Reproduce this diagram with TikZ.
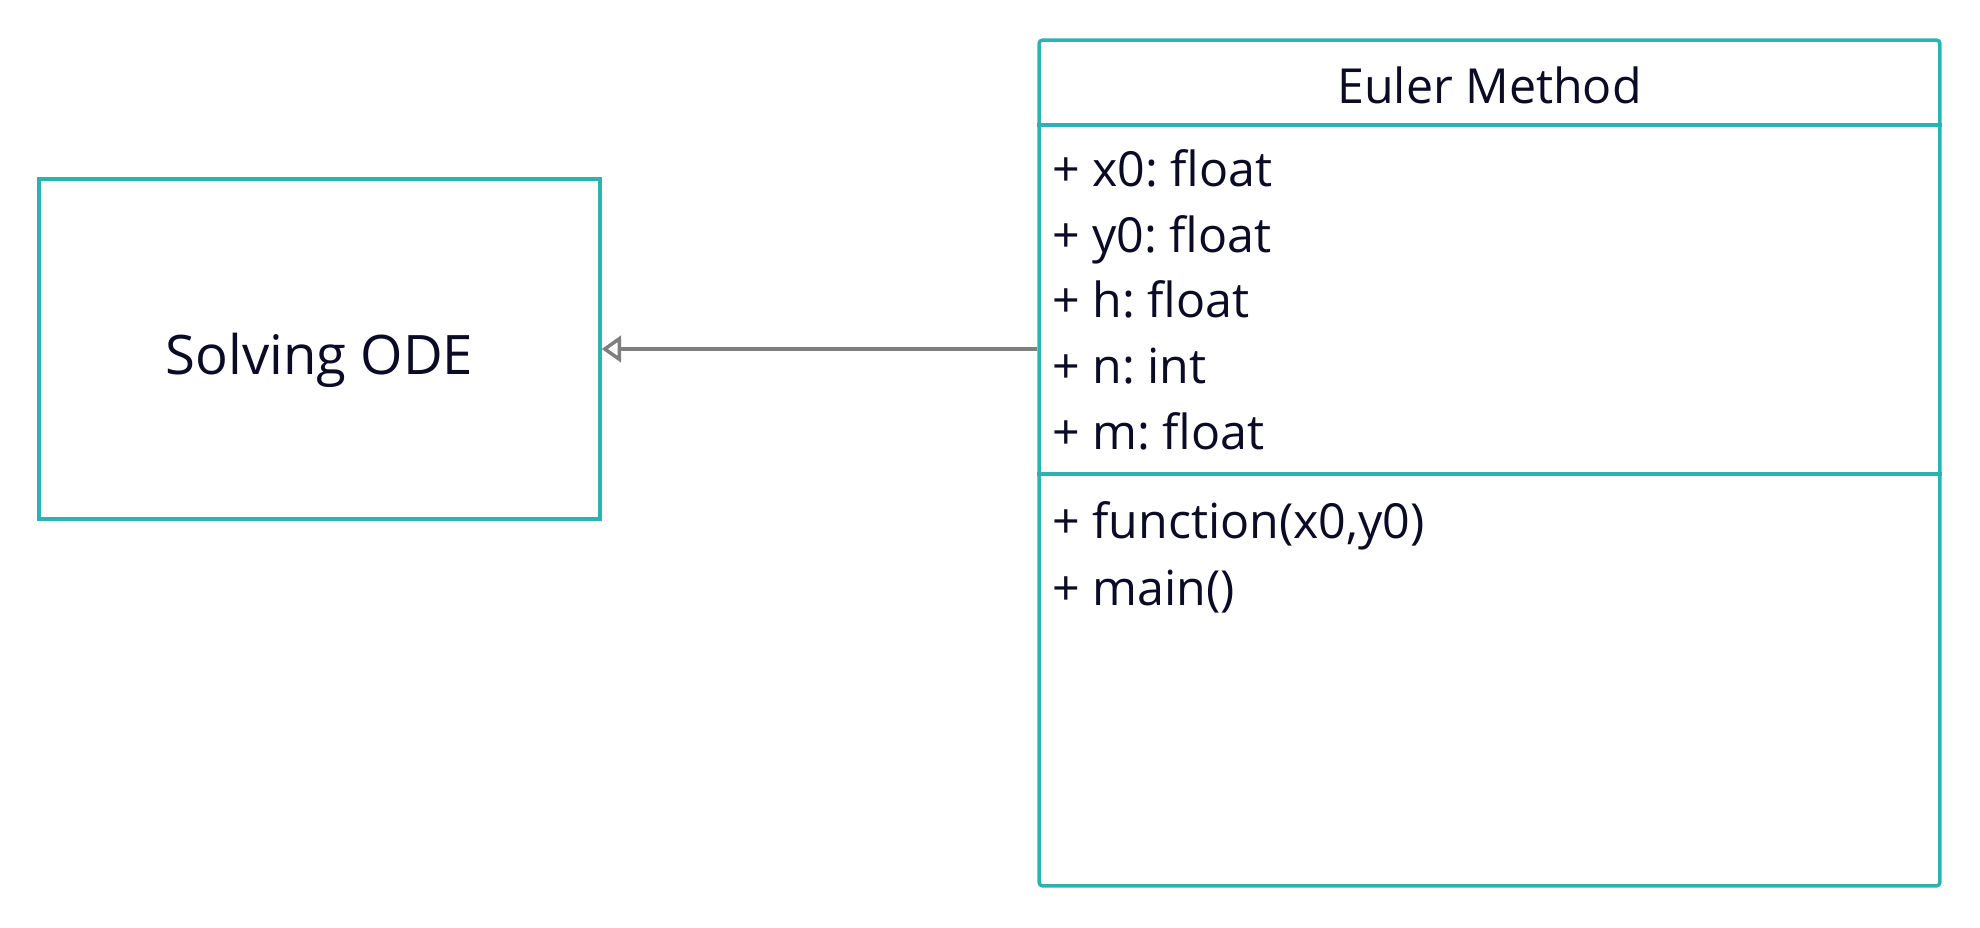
\documentclass[tikz,border=0pt]{standalone}
\usepackage{fontspec}
\setmainfont{Open Sans}
\usetikzlibrary{arrows.meta}
\definecolor{boxteal}{HTML}{2AB3B1}
\definecolor{ink}{HTML}{0B0B26}
\definecolor{linkgray}{HTML}{7F7F7F}
\frenchspacing

\begin{document}
\begin{tikzpicture}[x=0.02cm,y=-0.02cm,auto]
                \useasboundingbox (0,0) rectangle (1980,928);
                \begin{scope}[every node/.style={draw=boxteal,line width=2pt,inner sep=0pt}]
                    \node (S) [minimum width=11.22cm,minimum height=6.8cm] at (319.5,349) {};
                    \node (E) [minimum width=18.02cm,minimum height=16.92cm,rounded corners=2pt] at (1489.5,463) {};
                \end{scope}
                \begin{scope}[every node/.style={inner sep=0pt,text=ink,font=\fontsize{27.5}{33}\selectfont}]
                    \node (SL) [anchor=base,font=\fontsize{31}{36}\selectfont] at (319.5,375) {Solving ODE};
                    \node (T) [anchor=base] at (1489.5,104) {Euler Method};
                    \node (A1) [anchor=base west] at (1052,187) {+ x0: float};
                    \node (A2) [anchor=base west] at (1052,253) {+ y0: float};
                    \node (A3) [anchor=base west] at (1052,318) {+ h: float};
                    \node (A4) [anchor=base west] at (1052,384) {+ n: int};
                    \node (A5) [anchor=base west] at (1052,450) {+ m: float};
                    \node (M1) [anchor=base west] at (1052,539) {+ function(x0,y0)};
                    \node (M2) [anchor=base west] at (1052,605) {+ main()};
                \end{scope}
                \begin{scope}[draw=boxteal,line width=2pt]
                    \draw (E.west |- 0,125) -- (E.east |- 0,125);
                    \draw (E.west |- 0,474) -- (E.east |- 0,474);
                \end{scope}
                \draw[linkgray,line width=2pt,-{Triangle[open,length=11pt,width=15pt]}] (S.east -| E.west) -- (S.east);
            \end{tikzpicture}
\end{document}
